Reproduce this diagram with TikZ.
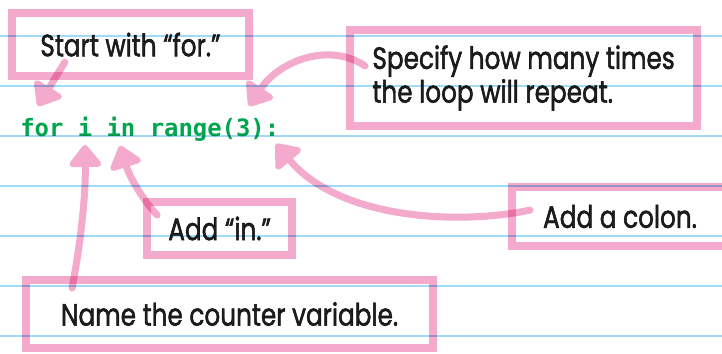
\documentclass[tikz,border=0pt]{standalone}
\usepackage{fontspec}
\newfontfamily\handfont[FakeStretch=0.8,FakeBold=1.5]{Poppins}
\newfontfamily\codefont{DejaVu Sans Mono}
\usetikzlibrary{arrows.meta}
\pgfdeclarelayer{paper}
\pgfdeclarelayer{rules}
\pgfsetlayers{paper,main,rules}
\definecolor{hlpink}{RGB}{243,170,205}
\definecolor{ruleblue}{RGB}{160,218,243}
\definecolor{codegreen}{RGB}{0,165,80}

\begin{document}
\begin{tikzpicture}[
    note/.style={draw=hlpink, line width=5.3pt, outer sep=0pt, inner sep=0pt, blend mode=multiply,
      font=\handfont\fontsize{22pt}{24pt}\selectfont, text=black!88, align=center},
    marker/.style={draw=hlpink, line width=5pt, line cap=round,
      -{Triangle[width=26pt,length=17pt,round]}}
  ]
    \useasboundingbox (0,0) rectangle (18.05,8.825);

    \node[anchor=base west, inner sep=0pt, text=codegreen,
      font=\codefont\bfseries\fontsize{17pt}{20pt}\selectfont] (code) at (0.5,5.425) {for i in range(3):};

    \node[note, minimum width=5.93cm, minimum height=1.58cm] (start) at (3.26,7.71) {Start with “for.”};
    \node[note, minimum width=8.675cm, minimum height=2.4cm, align=left] (times) at (13.09,6.875) {Specify how many times\\the loop will repeat.};
    \node[note, minimum width=3.625cm, minimum height=1.325cm] (addin) at (5.49,3.1125) {Add “in.”};
    \node[note, minimum width=10.175cm, minimum height=1.7cm] (counter) at (5.74,0.975) {Name the counter variable.};
    \node[note, minimum width=5.4cm, minimum height=1.475cm] (colon) at (15.5,3.4125) {Add a colon.};

    \coordinate (forpt) at (0.95,6.175);
    \coordinate (ipt) at (2.125,5.2);
    \coordinate (inpt) at (3.0,5.175);
    \coordinate (rangept) at (6.225,6.175);
    \coordinate (colonpt) at (6.9,5.225);

    % arrows go under the boxes
    \begin{pgfonlayer}{paper}
      \draw[marker] ([shift={(1.325,0.35)}]start.south west) -- (forpt);
      \draw[marker] ([shift={(0.375,0.3)}]times.west) .. controls (8.25,7.775) and (7.0,7.325) .. (rangept);
      \draw[marker] ([shift={(1.15,-0.2)}]counter.north west) .. controls (2.1,3.2) and (2.14,4.3) .. (ipt);
      \draw[marker] ([shift={(0.25,-0.325)}]addin.north west) .. controls (3.575,3.825) and (3.25,4.375) .. (inpt);
      \draw[marker] ([shift={(0.45,0.16)}]colon.west) .. controls (11.5,3.2) and (8.5,3.325) .. (colonpt);
    \end{pgfonlayer}

    % ruled paper
    \begin{pgfonlayer}{rules}
      \foreach \y in {0.425,1.675,...,7.925}
        \draw[ruleblue, line width=1.1pt, blend mode=multiply] (0,\y) -- (18.05,\y);
    \end{pgfonlayer}
  \end{tikzpicture}
\end{document}
